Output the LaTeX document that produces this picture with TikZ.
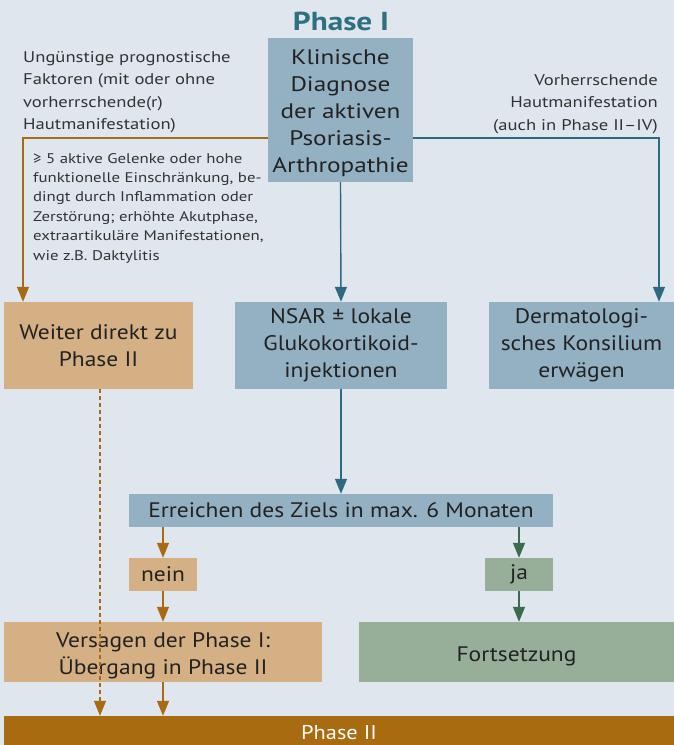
\documentclass[tikz,border=0pt]{standalone}
\usepackage{fontspec}
\setmainfont{PT Sans}[FakeStretch=1.2]
\newfontfamily\boxfont{PT Sans}[FakeStretch=1.12]
\usetikzlibrary{arrows.meta}
\definecolor{bg}{HTML}{DFE6EE}
\definecolor{boxblue}{HTML}{94B0C3}
\definecolor{boxtan}{HTML}{D4B084}
\definecolor{boxgreen}{HTML}{97AE99}
\definecolor{barbrown}{HTML}{A96B10}
\definecolor{titleteal}{HTML}{2D7080}
\definecolor{lblue}{HTML}{2B6A80}
\definecolor{lorange}{HTML}{A86A12}
\definecolor{lgreen}{HTML}{3C6B4B}
\definecolor{txt}{HTML}{222222}
\definecolor{gtxt}{HTML}{333333}
\newcommand{\lowerby}[2]{\raisebox{-#1}[\height][\depth]{\begin{tabular}{@{}c@{}}#2\end{tabular}}}
\tikzset{
  box/.style={rectangle, inner sep=0pt, align=center, text=txt, font=\boxfont\fontsize{21}{27}\selectfont},
  bbox/.style={box, fill=boxblue},
  tbox/.style={box, fill=boxtan},
  gbox/.style={box, fill=boxgreen},
  tip/.style={-{Triangle[width=12pt,length=15pt]}},
  barrow/.style={tip, draw=lblue, line width=1.4pt},
  oarrow/.style={tip, draw=lorange, line width=1.4pt},
  garrow/.style={tip, draw=lgreen, line width=1.4pt},
  note/.style={inner sep=0pt, text=gtxt, font=\fontsize{15.5}{22.5}\selectfont},
  smallnote/.style={inner sep=0pt, text=gtxt, align=left, font=\fontsize{14}{19.4}\selectfont},
}
\begin{document}
\begin{tikzpicture}[x=1pt,y=-1pt]
\useasboundingbox (0,0) rectangle (674,745);
\clip (0,0) rectangle (674,745);
\fill[bg] (0,0) rectangle (674,745);

% title
\node[inner sep=0pt, text=titleteal, font=\fontsize{26}{30}\selectfont\bfseries] (title) at (341,21) {Phase I};

% boxes
\node[bbox, minimum width=145pt, minimum height=144pt, font=\rmfamily\fontsize{21}{27}\selectfont] (klin) at (340.5,110) {\lowerby{3pt}{Klinische\\Diagnose\\der aktiven\\Psoriasis-\\Arthropathie}};
\node[tbox, minimum width=189pt, minimum height=87pt] (weiter) at (98.5,345.5) {Weiter direkt zu\\Phase II};
\node[bbox, minimum width=212pt, minimum height=87pt] (nsar) at (341,345.5) {NSAR ± lokale\\Glukokortikoid-\\injektionen};
\node[bbox, minimum width=185pt, minimum height=87pt] (derm) at (581.5,345.5) {Dermatologi-\\sches Konsilium\\erwägen};
\node[bbox, minimum width=424pt, minimum height=33pt] (err) at (341,510.5) {Erreichen des Ziels in max. 6 Monaten};
\node[tbox, minimum width=68pt, minimum height=33pt] (nein) at (163,574.5) {nein};
\node[gbox, minimum width=68pt, minimum height=33pt] (ja) at (519,574.5) {ja};
\node[tbox, minimum width=318pt, minimum height=60pt] (vers) at (163,652) {\lowerby{4pt}{Versagen der Phase I:\\Übergang in Phase II}};
\node[gbox, minimum width=315pt, minimum height=60pt] (fort) at (516.5,652) {\lowerby{4pt}{Fortsetzung}};
\node[box, fill=barbrown, text=white, minimum width=670pt, minimum height=34pt, font=\boxfont\fontsize{20}{24}\selectfont] (bar) at (339,733) {Phase II};

% notes
\node[note, anchor=north west, align=left] (lnote) at (23,51) {Ungünstige prognostische\\Faktoren (mit oder ohne\\vorherrschende(r)\\Hautmanifestation)};
\node[note, anchor=north east, align=right] (rnote) at (658,74) {Vorherrschende\\Hautmanifestation\\(auch in Phase II–IV)};
\node[smallnote, anchor=north west] (snote) at (33,153) {≥ 5 aktive Gelenke oder hohe\\funktionelle Einschränkung, be-\\dingt durch Inflammation oder\\Zerstörung; erhöhte Akutphase,\\extraartikuläre Manifestationen,\\wie z.B. Daktylitis};

% connectors
\coordinate (lc) at (23,138);
\coordinate (rc) at (659,138);
\draw[oarrow] (klin.west |- lc) -- (lc) -- (lc |- weiter.north);
\draw[barrow] (klin.east |- rc) -- (rc) -- (rc |- derm.north);
\draw[barrow] (klin.south) -- (nsar.north);
\draw[barrow] (nsar.south) -- (err.north);
\draw[oarrow] (nein.north |- err.south) -- (nein.north);
\draw[garrow] (ja.north |- err.south) -- (ja.north);
\draw[oarrow] (nein.south) -- (vers.north);
\draw[garrow] (ja.south) -- (ja.south |- fort.north);
\draw[oarrow] (vers.south) -- (vers.south |- bar.north);
\draw[oarrow, dash pattern=on 4pt off 3pt, line width=1.1pt] ([xshift=1.5pt]weiter.south) -- ([xshift=1.5pt]weiter.south |- bar.north);
\end{tikzpicture}
\end{document}
